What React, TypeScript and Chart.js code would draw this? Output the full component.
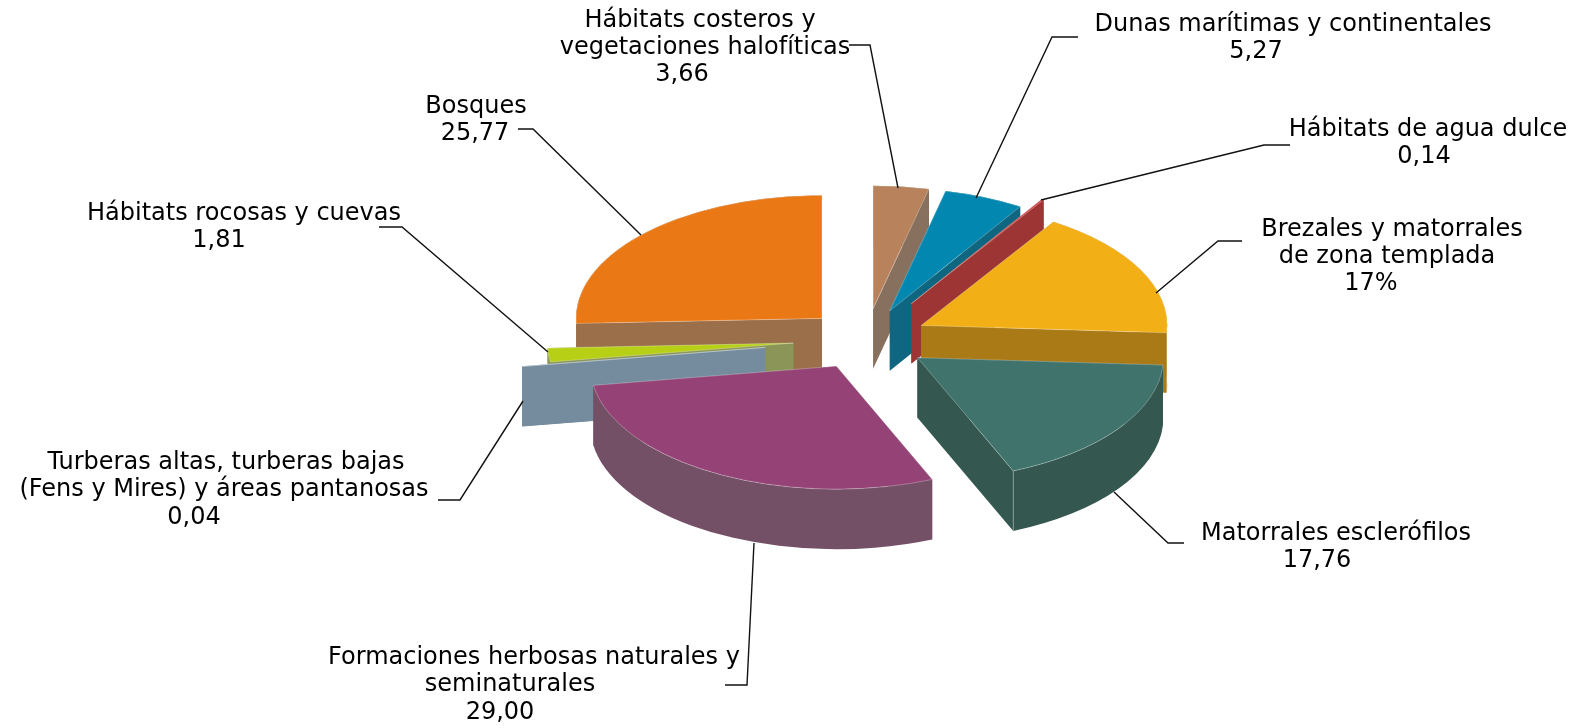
import React, { useEffect, useRef } from "react";
import { Chart, registerables } from "chart.js";

Chart.register(...registerables);

const categories = [
  "Hábitats costeros y vegetaciones halofíticas",
  "Dunas marítimas y continentales",
  "Hábitats de agua dulce",
  "Brezales y matorrales de zona templada",
  "Matorrales esclerófilos",
  "Formaciones herbosas naturales y seminaturales",
  "Turberas altas, turberas bajas (Fens y Mires) y áreas pantanosas",
  "Hábitats rocosas y cuevas",
  "Bosques",
];
const values = [3.66, 5.27, 0.14, 17, 17.76, 29.0, 0.04, 1.81, 25.77];
const valueLabels = ["3,66", "5,27", "0,14", "17%", "17,76", "29,00", "0,04", "1,81", "25,77"];

const topColors = ["#B8835C", "#0288B0", "#D24444", "#F2B016", "#3F736B", "#954377", "#748C9E", "#B7D016", "#E97815"];
const wallColors = ["#87705D", "#0E6680", "#9C3533", "#AA7A17", "#345750", "#745066", "#748C9E", "#8B9558", "#9C6F4B"];
const explode = [62, 62, 85, 62, 63, 61, 102, 73, 61];
const paintOrder = [0, 1, 2, 8, 7, 6, 3, 4, 5];

const SQUASH = 0.5;
const DEPTH = 60;
const RADIUS = 246;
const CENTER_X = 866;
const CENTER_Y = 339.5;
const FONT = '24px "DejaVu Sans"';

// text lines: [text, centre x, vertical centre y]
const textLayout: [string, number, number][][] = [
  [["Hábitats costeros y", 700, 21], ["vegetaciones halofíticas", 705, 48], [valueLabels[0], 682, 75]],
  [["Dunas marítimas y continentales", 1293, 25], [valueLabels[1], 1256, 52]],
  [["Hábitats de agua dulce", 1428, 130], [valueLabels[2], 1424, 157]],
  [["Brezales y matorrales", 1392, 230], ["de zona templada", 1387, 257], [valueLabels[3], 1371, 284]],
  [["Matorrales esclerófilos", 1336, 534], [valueLabels[4], 1317, 561]],
  [["Formaciones herbosas naturales y", 534, 658], ["seminaturales", 510, 685], [valueLabels[5], 500, 713]],
  [["Turberas altas, turberas bajas", 226, 463], ["(Fens y Mires) y áreas pantanosas", 224, 490], [valueLabels[6], 194, 518]],
  [["Hábitats rocosas y cuevas", 244, 214], [valueLabels[7], 219, 241]],
  [["Bosques", 476, 107], [valueLabels[8], 475, 134]],
];

const leaders: [number, number][][] = [
  [[849, 45], [870, 45], [898, 188]],
  [[1078, 37], [1052, 37], [976, 198]],
  [[1290, 145], [1264, 145], [1041, 200]],
  [[1242, 241], [1218, 241], [1156, 293]],
  [[1114, 492], [1168, 543], [1184, 543]],
  [[754, 543], [747, 685], [725, 685]],
  [[523, 401], [460, 500], [438, 500]],
  [[548, 352], [402, 227], [379, 227]],
  [[641, 235], [533, 129], [518, 129]],
];

const pie3d = {
  id: "pie3d",
  beforeDatasetsDraw(chart: any) {
    const ctx: CanvasRenderingContext2D = chart.ctx;
    const arcs = chart.getDatasetMeta(0).data;
    const edge = "rgba(255,255,255,0.28)";

    ctx.save();
    ctx.lineWidth = 1;
    for (const i of paintOrder) {
      const arc = arcs[i];
      const a = arc.startAngle as number;
      const b = arc.endAngle as number;
      const r = arc.outerRadius as number;
      const mid = (a + b) / 2;
      const off = arc.options.offset as number;
      const cx = arc.x + off * Math.cos(mid);
      const cy = arc.y + off * Math.sin(mid) * SQUASH;
      const px = (t: number) => cx + r * Math.cos(t);
      const py = (t: number) => cy + r * Math.sin(t) * SQUASH;

      ctx.fillStyle = arc.options.borderColor;
      const face = (t: number) => {
        ctx.beginPath();
        ctx.moveTo(cx, cy);
        ctx.lineTo(px(t), py(t));
        ctx.lineTo(px(t), py(t) + DEPTH);
        ctx.lineTo(cx, cy + DEPTH);
        ctx.closePath();
        ctx.fill();
      };
      face(a);
      face(b);
      ctx.beginPath();
      ctx.ellipse(cx, cy, r, r * SQUASH, 0, a, b);
      ctx.ellipse(cx, cy + DEPTH, r, r * SQUASH, 0, b, a, true);
      ctx.closePath();
      ctx.fill();

      if (Math.sin(b + Math.PI / 2) > 0 && Math.sin(b) > 0) {
        ctx.strokeStyle = edge;
        ctx.beginPath();
        ctx.moveTo(px(b), py(b));
        ctx.lineTo(px(b), py(b) + DEPTH);
        ctx.stroke();
      }

      ctx.fillStyle = arc.options.backgroundColor;
      ctx.strokeStyle = edge;
      ctx.beginPath();
      ctx.moveTo(cx, cy);
      ctx.ellipse(cx, cy, r, r * SQUASH, 0, a, b);
      ctx.closePath();
      ctx.fill();
      ctx.stroke();
    }

    ctx.strokeStyle = "#111111";
    ctx.lineWidth = 1.4;
    for (const pts of leaders) {
      ctx.beginPath();
      pts.forEach(([x, y], k) => (k ? ctx.lineTo(x, y) : ctx.moveTo(x, y)));
      ctx.stroke();
    }

    ctx.fillStyle = "#000000";
    ctx.font = FONT;
    ctx.textAlign = "center";
    ctx.textBaseline = "middle";
    for (const block of textLayout) {
      for (const [text, x, y] of block) ctx.fillText(text, x, y);
    }
    ctx.restore();
    return false;
  },
};

export default function App() {
  const ref = useRef<HTMLCanvasElement | null>(null);
  useEffect(() => {
    document.body.style.background = "#ffffff";
    const chart = new Chart(ref.current as HTMLCanvasElement, {
      type: "pie",
      data: {
        labels: categories,
        datasets: [
          {
            data: values,
            backgroundColor: topColors,
            borderColor: wallColors,
            borderWidth: 0,
            offset: explode,
            radius: RADIUS,
          } as any,
        ],
      },
      options: {
        responsive: false,
        maintainAspectRatio: false,
        animation: false,
        events: [],
        layout: {
          padding: {
            left: CENTER_X * 2 - 1576,
            right: 0,
            top: 0,
            bottom: 728 - CENTER_Y * 2,
          },
        },
        plugins: { legend: { display: false }, tooltip: { enabled: false }, title: { display: false } },
      },
      plugins: [pie3d],
    });
    return () => chart.destroy();
  }, []);
  return (
    <div style={{ position: "absolute", left: 0, top: 0, width: 1576, height: 728 }}>
      <canvas ref={ref} width={1576} height={728} style={{ display: "block" }} />
    </div>
  );
}
